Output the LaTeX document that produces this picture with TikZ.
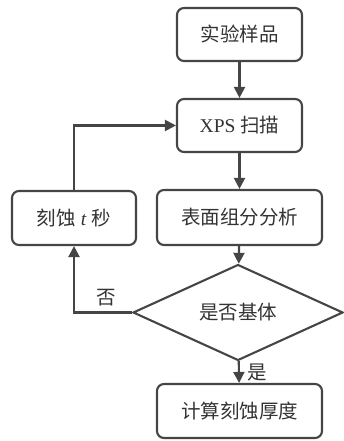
\documentclass[tikz,border=0pt]{standalone}
\usepackage{fontspec}
\setmainfont{Liberation Serif}
\newfontfamily\cjk{Noto Sans CJK SC}
\usetikzlibrary{shapes.geometric,arrows.meta}
\definecolor{lc}{HTML}{454545}
\definecolor{tc}{HTML}{333333}
\tikzset{
  box/.style={draw=lc,line width=2.1pt,rounded corners=7pt,text=tc,inner sep=0pt,font=\fontsize{19.5}{22}\selectfont},
  dec/.style={draw=lc,line width=2.1pt,shape=diamond,text=tc,inner sep=0pt,minimum width=210pt,minimum height=71pt,font=\fontsize{19.5}{22}\selectfont},
  conn/.style={draw=lc,line width=2.1pt,-{Triangle[length=11pt,width=11pt]}},
  lbl/.style={text=tc,font=\cjk\fontsize{19.5}{22}\selectfont}
}
\begin{document}
\begin{tikzpicture}[x=1pt,y=1pt]
\useasboundingbox (0,0) rectangle (344,441);
\node[box,minimum width=125pt,minimum height=53pt] (b1) at (239.5,406.5) {\cjk 实验样品};
\node[box,minimum width=125pt,minimum height=53pt] (b2) at (239.5,315.5) {XPS {\cjk 扫描}};
\node[box,minimum width=165pt,minimum height=55pt] (b3) at (239.5,223.5) {\cjk 表面组分分析};
\node[box,minimum width=124pt,minimum height=54pt] (b4) at (74,223) {{\cjk 刻蚀} \textit{t} {\cjk 秒}};
\node[dec] (d) at (238,128.5) {\cjk 是否基体};
\node[box,minimum width=165pt,minimum height=54pt] (b5) at (239.5,30) {\cjk 计算刻蚀厚度};
\draw[conn] (b1) -- (b2);
\draw[conn] (b2) -- (b3);
\draw[conn] (b3) -- (d);
\draw[conn] (d) -- node[lbl,right,xshift=4pt] {是} (b5);
\draw[conn] (d.west) -| node[lbl,pos=0.22,above,yshift=2pt] {否} (b4.south);
\draw[conn] (b4.north) |- (b2.west);
\end{tikzpicture}
\end{document}
